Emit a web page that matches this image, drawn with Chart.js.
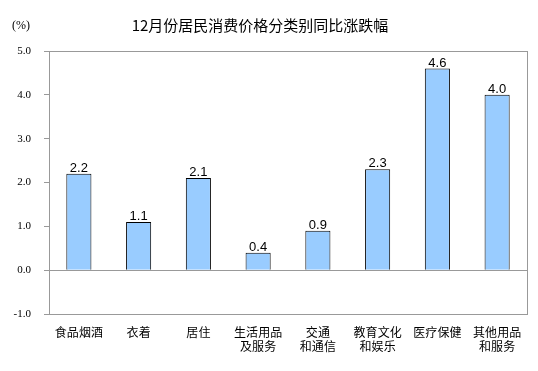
<!DOCTYPE html>
<html>
<head>
<meta charset="utf-8">
<script src="https://cdn.jsdelivr.net/npm/chart.js@4"></script>
<style>
  html, body { margin: 0; padding: 0; background: #fff; }
  #wrap { width: 538px; height: 371px; position: relative; }
</style>
</head>
<body>
<div id="wrap"><canvas id="myChart" width="538" height="371"></canvas></div>
<script>
var titleText = "12月份居民消费价格分类别同比涨跌幅";
var unitText = "(%)";
var categories = [
  "食品烟酒",
  "衣着",
  "居住",
  ["生活用品", "及服务"],
  ["交通", "和通信"],
  ["教育文化", "和娱乐"],
  "医疗保健",
  ["其他用品", "和服务"]
];
var values = [2.2, 1.1, 2.1, 0.4, 0.9, 2.3, 4.6, 4.0];
var yMin = -1, yMax = 5, yStep = 1;

var cjk = "'Noto Sans CJK SC', sans-serif";

// value labels, frame, zero line and titles
var extras = {
  id: "extras",
  afterDatasetsDraw: function (chart) {
    var c = chart.ctx;
    var area = chart.chartArea;
    var y = chart.scales.y;
    c.save();
    // zero line
    var y0 = Math.round(y.getPixelForValue(0)) + 0.5;
    c.strokeStyle = "#999999";
    c.lineWidth = 1;
    c.beginPath();
    c.moveTo(area.left, y0);
    c.lineTo(area.right, y0);
    c.stroke();
    // frame
    c.strokeRect(Math.round(area.left) + 0.5, Math.round(area.top) + 0.5,
      Math.round(area.right - area.left), Math.round(area.bottom - area.top));
    // values
    c.fillStyle = "#000";
    c.font = "13px 'Liberation Sans', Arial, sans-serif";
    c.textAlign = "center";
    c.textBaseline = "alphabetic";
    chart.getDatasetMeta(0).data.forEach(function (bar, i) {
      c.fillText(values[i].toFixed(1), bar.x, bar.y - 2);
    });
    // title
    c.font = "15px " + cjk;
    c.textBaseline = "middle";
    c.fillText(titleText, 260, 25);
    c.font = "12px 'Liberation Serif', serif";
    c.textAlign = "left";
    c.fillText(unitText, 12, 26);
    c.restore();
  }
};

var ctx = document.getElementById("myChart").getContext("2d");
var myChart = new Chart(ctx, {
  type: "bar",
  plugins: [extras],
  data: {
    labels: categories,
    datasets: [{
      data: values,
      backgroundColor: "#99CCFF",
      borderColor: "#000000",
      borderWidth: 1,
      barPercentage: 0.42,
      categoryPercentage: 1
    }]
  },
  options: {
    responsive: false,
    animation: false,
    events: [],
    layout: { padding: { top: 51, right: 11, left: 0, bottom: 0 } },
    plugins: {
      legend: { display: false },
      tooltip: { enabled: false }
    },
    scales: {
      x: {
        grid: { display: false },
        border: { display: false },
        ticks: {
          color: "#000",
          font: { family: cjk, size: 12, lineHeight: 1.17 },
          padding: 3,
          maxRotation: 0,
          autoSkip: false
        },
        afterFit: function (s) { s.height = 57; }
      },
      y: {
        min: yMin,
        max: yMax,
        border: { display: true, color: "#999999" },
        grid: {
          drawOnChartArea: false,
          drawTicks: true,
          tickLength: 5,
          color: "#999999"
        },
        ticks: {
          stepSize: yStep,
          color: "#000",
          padding: 13,
          font: { family: "'Liberation Serif', serif", size: 11 },
          callback: function (v) { return v.toFixed(1); }
        },
        afterFit: function (s) { s.width = 49; }
      }
    }
  }
});
</script>
</body>
</html>
